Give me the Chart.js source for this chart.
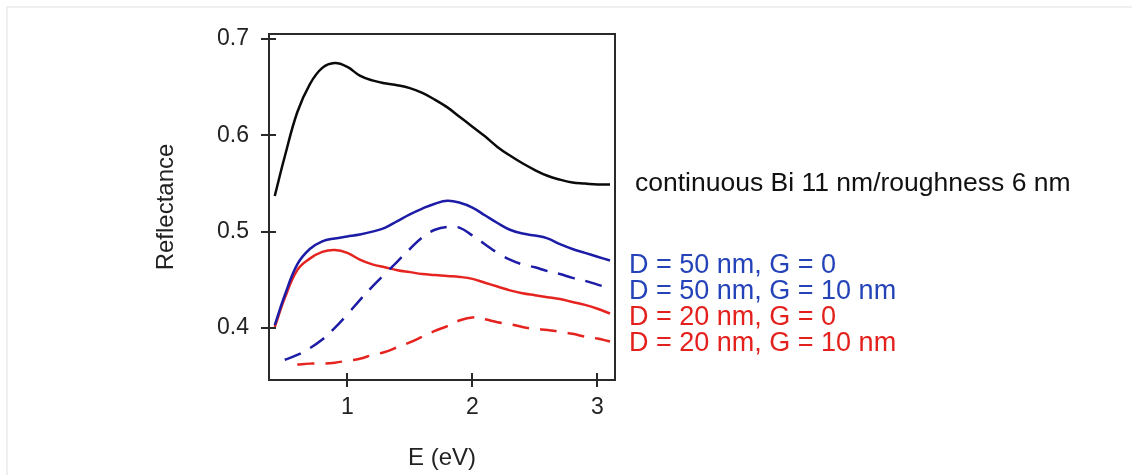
<!DOCTYPE html>
<html>
<head>
<meta charset="utf-8">
<script src="https://cdn.jsdelivr.net/npm/chart.js@4.4.1/dist/chart.umd.min.js"></script>
<style>
  html, body { margin: 0; padding: 0; background: #fff; }
  .frame { position: absolute; left: 6px; top: 6px; width: 1200px; height: 600px;
           border-top: 2px solid #efefef; border-left: 2px solid #efefef; }
  #chart { position: absolute; left: 0; top: 0; }
</style>
</head>
<body>
<div class="frame"></div>
<canvas id="chart" width="1132" height="475"></canvas>
<script>
// photon energy grid (eV)
const energy = [0.42, 0.5, 0.6, 0.7, 0.8, 0.9, 1.0, 1.1, 1.2, 1.3, 1.4, 1.5, 1.6, 1.7,
                1.8, 1.9, 2.0, 2.1, 2.2, 2.3, 2.4, 2.5, 2.6, 2.7, 2.8, 2.9, 3.0, 3.1];

const continuousBi = [0.537, 0.578, 0.624, 0.653, 0.670, 0.675, 0.671, 0.662, 0.657, 0.654, 0.652, 0.649, 0.644, 0.637,
                      0.629, 0.619, 0.609, 0.599, 0.588, 0.579, 0.571, 0.564, 0.558, 0.554, 0.551, 0.550, 0.549, 0.549];
const d50g0 = [0.403, 0.434, 0.466, 0.482, 0.490, 0.493, 0.495, 0.497, 0.500, 0.504, 0.511, 0.518, 0.524, 0.529,
               0.532, 0.530, 0.525, 0.517, 0.509, 0.502, 0.498, 0.496, 0.493, 0.487, 0.482, 0.478, 0.474, 0.470];
const d50g10 = [null, 0.367, 0.372, 0.379, 0.388, 0.400, 0.414, 0.429, 0.443, 0.456, 0.469, 0.482, 0.494, 0.502,
                0.505, 0.504, 0.496, 0.487, 0.478, 0.471, 0.466, 0.463, 0.459, 0.456, 0.452, 0.449, 0.445, 0.441];
const d20g0 = [0.401, 0.431, 0.460, 0.472, 0.479, 0.481, 0.478, 0.471, 0.466, 0.463, 0.460, 0.458, 0.456, 0.455,
               0.454, 0.453, 0.451, 0.447, 0.443, 0.439, 0.436, 0.434, 0.432, 0.430, 0.427, 0.424, 0.420, 0.415];
const d20g10 = [null, null, 0.362, 0.363, 0.363, 0.364, 0.366, 0.368, 0.372, 0.375, 0.380, 0.385, 0.391, 0.397,
                0.402, 0.408, 0.411, 0.409, 0.406, 0.404, 0.401, 0.399, 0.398, 0.396, 0.394, 0.391, 0.389, 0.386];

const xTicks = [1, 2, 3];
const yTicks = [0.4, 0.5, 0.6, 0.7];

const FONT = '"Liberation Sans", Arial, Helvetica, sans-serif';
const BLUE = '#1c1ca6', RED = '#e52420';

const pts = arr => energy.map((x, i) => ({ x: x, y: arr[i] }));

function series(label, arr, color, textColor, dashed) {
  return {
    label: label,
    data: pts(arr),
    borderColor: color,
    textColor: textColor,
    borderWidth: 2.5,
    borderDash: dashed ? [17, 11] : [],
    pointRadius: 0,
    tension: 0.4,
    fill: false
  };
}

// frame, crossing tick marks and the curve labels on the right
const decor = {
  id: 'decor',
  afterDraw(chart) {
    const ctx = chart.ctx, a = chart.chartArea;
    const xs = chart.scales.x, ys = chart.scales.y;
    ctx.save();
    ctx.strokeStyle = '#2a2a2a';
    ctx.lineWidth = 2;
    ctx.strokeRect(a.left, a.top, a.right - a.left, a.bottom - a.top);
    ctx.beginPath();
    yTicks.forEach(v => {
      const y = Math.round(ys.getPixelForValue(v));
      ctx.moveTo(a.left - 8, y); ctx.lineTo(a.left + 7, y);
    });
    xTicks.forEach(v => {
      const x = Math.round(xs.getPixelForValue(v));
      ctx.moveTo(x, a.bottom - 7); ctx.lineTo(x, a.bottom + 7);
    });
    ctx.stroke();

    ctx.textAlign = 'left';
    ctx.textBaseline = 'middle';
    const ds = chart.data.datasets;
    // top curve: label sits at the end of the line
    const last = ds[0].data[ds[0].data.length - 1].y;
    ctx.font = '26.5px ' + FONT;
    ctx.fillStyle = ds[0].textColor;
    ctx.fillText(ds[0].label, a.right + 20, ys.getPixelForValue(last) - 1);
    // stacked labels for the nanostructured films
    ctx.font = '27px ' + FONT;
    ds.slice(1).forEach((d, i) => {
      ctx.fillStyle = d.textColor;
      ctx.fillText(d.label, a.right + 14, a.top + 232 + i * 26);
    });
    ctx.restore();
  }
};

new Chart(document.getElementById('chart'), {
  type: 'line',
  data: {
    datasets: [
      series('continuous Bi 11 nm/roughness 6 nm', continuousBi, '#0a0a0a', '#111111', false),
      series('D = 50 nm, G = 0', d50g0, BLUE, '#2443b8', false),
      series('D = 50 nm, G = 10 nm', d50g10, BLUE, '#2443b8', true),
      series('D = 20 nm, G = 0', d20g0, RED, '#e3201c', false),
      series('D = 20 nm, G = 10 nm', d20g10, RED, '#e3201c', true)
    ]
  },
  options: {
    responsive: false,
    animation: false,
    layout: { padding: { left: 0, top: 34, right: 517, bottom: 0 } },
    plugins: { legend: { display: false }, tooltip: { enabled: false } },
    scales: {
      x: {
        type: 'linear',
        min: 0.374,
        max: 3.14,
        grid: { display: false, drawTicks: false },
        border: { display: false },
        afterBuildTicks: s => { s.ticks = xTicks.map(v => ({ value: v })); },
        afterFit: s => { s.height = 95; },
        ticks: {
          padding: 14,
          color: '#222',
          font: { family: FONT, size: 23 },
          callback: v => String(v)
        },
        title: {
          display: true,
          text: 'E (eV)',
          color: '#222',
          font: { family: FONT, size: 24 },
          padding: { top: 0, bottom: 2 }
        }
      },
      y: {
        type: 'linear',
        min: 0.346,
        max: 0.7052,
        grid: { display: false, drawTicks: false },
        border: { display: false },
        afterBuildTicks: s => { s.ticks = yTicks.map(v => ({ value: v })); },
        afterFit: s => { s.width = 269; },
        ticks: {
          padding: 20,
          color: '#222',
          font: { family: FONT, size: 23 },
          callback: v => v.toFixed(1)
        },
        title: {
          display: true,
          text: 'Reflectance',
          color: '#222',
          font: { family: FONT, size: 24 },
          padding: { top: 152, bottom: 0 }
        }
      }
    }
  },
  plugins: [decor]
});
</script>
</body>
</html>
